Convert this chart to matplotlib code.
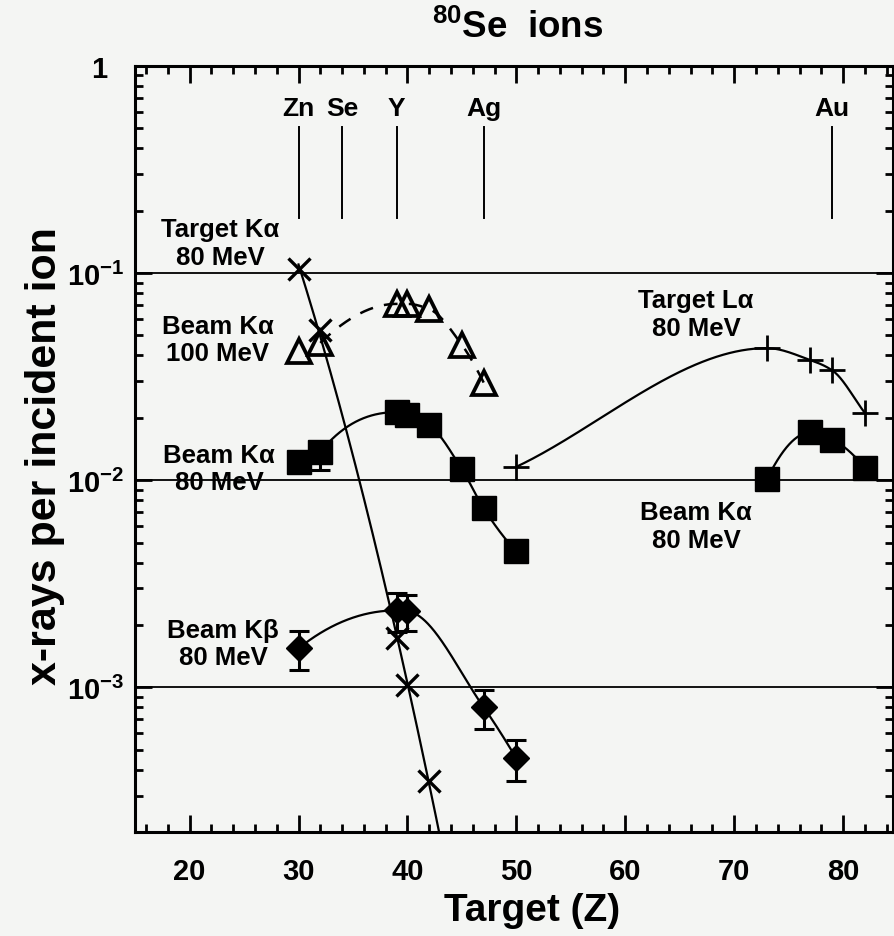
import numpy as np
import matplotlib
matplotlib.use("Agg")
import matplotlib.pyplot as plt
from matplotlib.ticker import FixedLocator, FixedFormatter, LogLocator, NullFormatter, MultipleLocator

# ---------------- data ----------------
tka_z = [30, 32, 39, 40, 42]                     # Target K-alpha 80 MeV (x)
tka_y = [0.105, 0.053, 0.00173, 0.00102, 0.000352]

bka100_z = [30, 32, 39, 40, 42, 45, 47]          # Beam K-alpha 100 MeV (open triangles)
bka100_y = [0.042, 0.046, 0.071, 0.071, 0.067, 0.045, 0.0296]

bka80_z = [30, 32, 39, 40, 42, 45, 47, 50]       # Beam K-alpha 80 MeV (squares, low Z)
bka80_y = [0.0123, 0.0137, 0.0213, 0.0206, 0.0184, 0.0113, 0.0073, 0.00454]
bka80_err_lo = [0, 0.0025, 0, 0, 0, 0, 0, 0]
bka80_err_hi = [0, 0.0015, 0, 0, 0, 0, 0, 0]

bka80h_z = [73, 77, 79, 82]                      # Beam K-alpha 80 MeV (squares, high Z)
bka80h_y = [0.0101, 0.0170, 0.0157, 0.0115]

bkb_z = [30, 39, 40, 47, 50]                     # Beam K-beta 80 MeV (diamonds)
bkb_y = [0.00154, 0.00235, 0.00233, 0.00080, 0.000454]
bkb_err = [0.00033, 0.00050, 0.00047, 0.00017, 0.00010]

tla_z = [50, 73, 77, 79, 82]                     # Target L-alpha 80 MeV (+)
tla_y = [0.0116, 0.0434, 0.038, 0.0339, 0.0211]

elements = ["Zn", "Se", "Y", "Ag", "Au"]
element_z = [30, 34, 39, 47, 79]

x_ticks = [20, 30, 40, 50, 60, 70, 80]
y_ticks = [1e-3, 1e-2, 1e-1, 1]
y_tick_labels = ["10$^{-3}$", "10$^{-2}$", "10$^{-1}$", "1"]

# ---------------- helpers ----------------
def pchip(x, y, xs, end="pchip"):
    x = np.asarray(x, float); y = np.asarray(y, float); xs = np.asarray(xs, float)
    h = np.diff(x); d = np.diff(y) / h
    n = len(x)
    m = np.zeros(n)
    for k in range(1, n - 1):
        if d[k - 1] * d[k] > 0:
            w1 = 2 * h[k] + h[k - 1]; w2 = h[k] + 2 * h[k - 1]
            m[k] = (w1 + w2) / (w1 / d[k - 1] + w2 / d[k])
    def endpt(h0, h1, d0, d1):
        mm = ((2 * h0 + h1) * d0 - h0 * d1) / (h0 + h1)
        if np.sign(mm) != np.sign(d0):
            mm = 0.0
        elif np.sign(d0) != np.sign(d1) and abs(mm) > abs(3 * d0):
            mm = 3 * d0
        return mm
    if end == "secant" or n == 2:
        m[0] = d[0]; m[-1] = d[-1]
    else:
        m[0] = endpt(h[0], h[1], d[0], d[1])
        m[-1] = endpt(h[-1], h[-2], d[-1], d[-2])
    idx = np.clip(np.searchsorted(x, xs) - 1, 0, n - 2)
    t = (xs - x[idx]) / h[idx]
    h00 = 2 * t**3 - 3 * t**2 + 1; h10 = t**3 - 2 * t**2 + t
    h01 = -2 * t**3 + 3 * t**2; h11 = t**3 - t**2
    return h00 * y[idx] + h10 * h[idx] * m[idx] + h01 * y[idx + 1] + h11 * h[idx] * m[idx + 1]

def log_pchip(x, y, x0, x1, end="pchip"):
    xs = np.linspace(x0, x1, 400)
    return xs, 10 ** pchip(x, np.log10(y), xs, end)

def log_poly(x, y, deg, x0, x1):
    c = np.polyfit(x, np.log10(y), deg)
    xs = np.linspace(x0, x1, 400)
    return xs, 10 ** np.polyval(c, xs)

# ---------------- style ----------------
BG = "#f4f5f3"
plt.rcParams["font.family"] = ["Liberation Sans", "DejaVu Sans"]
plt.rcParams["font.weight"] = "bold"
plt.rcParams["mathtext.fontset"] = "custom"
plt.rcParams["mathtext.rm"] = "Liberation Sans:bold"
plt.rcParams["mathtext.bf"] = "Liberation Sans:bold"
plt.rcParams["mathtext.it"] = "Liberation Sans:bold:italic"
plt.rcParams["axes.linewidth"] = 2.2

fig = plt.figure(figsize=(8.95, 9.37), dpi=100, facecolor=BG)
ax = fig.add_axes([0.151, 0.111, 0.847, 0.8175], facecolor=BG)
ax.set_yscale("log")
ax.set_xlim(15, 84.6)
ax.set_ylim(2e-4, 1)

# horizontal grid lines at decades
for v in y_ticks[:-1]:
    ax.axhline(v, color="black", lw=1.3, zorder=1)

# element marker lines
for name, z in zip(elements, element_z):
    ax.plot([z, z], [0.185, 0.51], color="black", lw=1.4)
    ax.text(z, 0.625, name, ha="center", va="center", fontsize=19, fontweight="bold")

# Target K-alpha 80 MeV
xs, ys = log_poly(tka_z, tka_y, 2, 30, 45)
ax.plot(xs, ys, color="black", lw=1.6, zorder=2)
ax.plot(tka_z, tka_y, ls="none", marker="x", ms=16, mew=2.4, color="black", zorder=4)

# Beam K-alpha 100 MeV (dashed)
xs, ys = log_pchip(bka100_z[1:], bka100_y[1:], bka100_z[1], bka100_z[-1])
ax.plot(xs, ys, color="black", lw=1.8, ls=(0, (5.5, 4.5)), zorder=2)
ax.plot(bka100_z, bka100_y, ls="none", marker="^", ms=17, mew=2.7,
        mfc="none", mec="black", zorder=4)

# Beam K-alpha 80 MeV (squares)
xs, ys = log_pchip(bka80_z[1:], bka80_y[1:], bka80_z[1], bka80_z[-1])
ax.plot(xs, ys, color="black", lw=1.6, zorder=2)
ax.errorbar(bka80_z, bka80_y, yerr=[bka80_err_lo, bka80_err_hi], ls="none",
            marker="s", ms=17, color="black", elinewidth=2.2, capsize=7, capthick=2.2, zorder=4)
xs, ys = log_pchip(bka80h_z, bka80h_y, bka80h_z[0], bka80h_z[-1])
ax.plot(xs, ys, color="black", lw=1.6, zorder=2)
ax.plot(bka80h_z, bka80h_y, ls="none", marker="s", ms=17, color="black", zorder=4)

# Beam K-beta 80 MeV (diamonds)
xs, ys = log_pchip(bkb_z, bkb_y, bkb_z[0], bkb_z[-1])
ax.plot(xs, ys, color="black", lw=1.6, zorder=2)
ax.errorbar(bkb_z, bkb_y, yerr=bkb_err, ls="none", marker="D", ms=13, color="black",
            elinewidth=2.2, capsize=7, capthick=2.2, zorder=4)

# Target L-alpha 80 MeV (+)
xs, ys = log_pchip(tla_z, tla_y, tla_z[0], tla_z[-1], end="secant")
ax.plot(xs, ys, color="black", lw=1.6, zorder=2)
ax.plot(tla_z, tla_y, ls="none", marker="+", ms=19, mew=2.0, color="black", zorder=4)

# annotations
ann_kw = dict(ha="center", va="center", fontsize=18.5, fontweight="bold", linespacing=1.18)
ax.text(22.8, 0.140, "Target Kα\n80 MeV", **ann_kw)
ax.text(22.6, 0.0478, "Beam Kα\n100 MeV", **ann_kw)
ax.text(22.7, 0.01140, "Beam Kα\n80 MeV", **ann_kw)
ax.text(23.1, 0.00163, "Beam Kβ\n80 MeV", **ann_kw)
ax.text(66.5, 0.0635, "Target Lα\n80 MeV", **ann_kw)
ax.text(66.5, 0.0060, "Beam Kα\n80 MeV", **ann_kw)

# ticks
ax.xaxis.set_major_locator(FixedLocator(x_ticks))
ax.xaxis.set_minor_locator(MultipleLocator(2))
ax.yaxis.set_major_locator(FixedLocator(y_ticks))
ax.yaxis.set_major_formatter(FixedFormatter(y_tick_labels))
ax.yaxis.set_minor_locator(LogLocator(base=10, subs=np.arange(2, 10)))
ax.yaxis.set_minor_formatter(NullFormatter())
ax.tick_params(which="both", direction="in", top=True, right=True, width=2)
ax.tick_params(which="major", length=12)
ax.tick_params(which="minor", length=6)
ax.tick_params(axis="x", which="major", labelsize=21, pad=18)
ax.tick_params(axis="y", which="major", labelsize=21, pad=8)
for lab in ax.get_xticklabels() + ax.get_yticklabels():
    lab.set_fontweight("bold")
# the "1" label sits a little further left in the original
for t in ax.yaxis.get_major_ticks(len(y_ticks)):
    if abs(t.get_loc() - 1) < 1e-9:
        t.label1.set_x(-0.022)

fig.text(0.578, 0.970, "$^{80}$Se  ions", ha="center", va="center", fontsize=26.5, fontweight="bold")
fig.text(0.594, 0.017, "Target (Z)", ha="center", va="baseline", fontsize=28, fontweight="bold")
fig.text(0.050, 0.513, "x-rays per incident ion", ha="center", va="center", rotation=90,
         fontsize=31, fontweight="bold")

fig.savefig("out.png", dpi=100, facecolor=BG)
